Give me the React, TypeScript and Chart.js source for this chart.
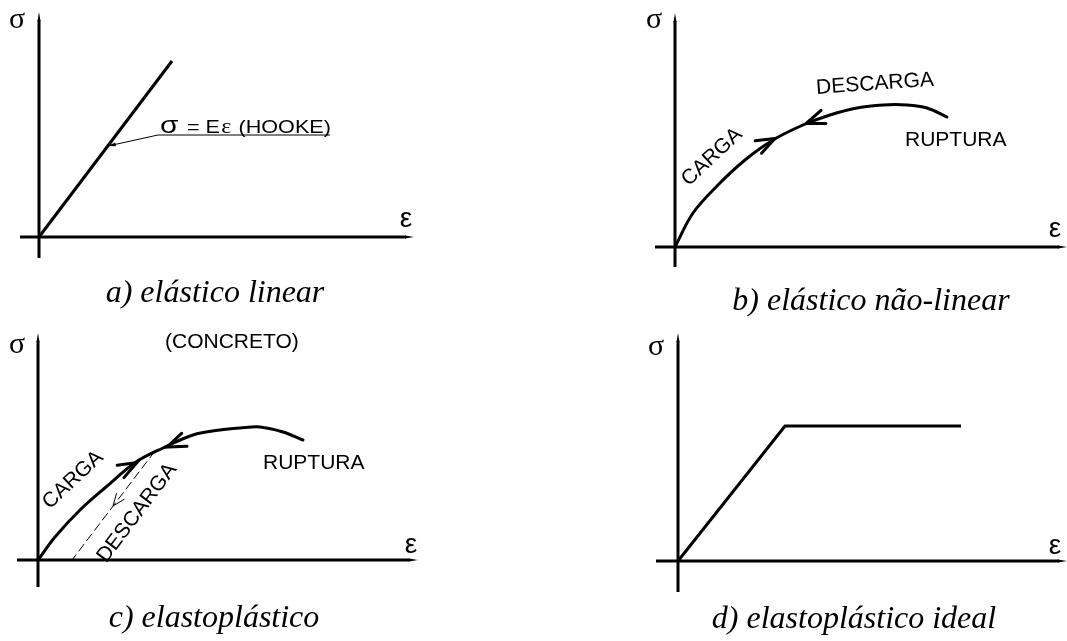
import React, { useEffect, useRef } from "react";
import { Chart, registerables } from "chart.js";

Chart.register(...registerables);

// Strain (ε) and stress (σ) values of each material law, in arbitrary units
const linearStrain = [0, 1.33];
const linearStress = [0, 1.76];

const nonlinearStrain = [0, 0.18, 0.43, 0.7, 0.98, 1.28, 1.55, 1.82, 2.08, 2.32, 2.52, 2.72];
const nonlinearStress = [0, 0.34, 0.62, 0.87, 1.07, 1.22, 1.32, 1.39, 1.42, 1.42, 1.39, 1.3];

const concreteStrain = [0, 0.17, 0.42, 0.68, 0.98, 1.25, 1.55, 1.82, 2.02, 2.22, 2.45, 2.65];
const concreteStress = [0, 0.23, 0.5, 0.73, 0.98, 1.12, 1.25, 1.3, 1.32, 1.33, 1.28, 1.2];

const unloadStrain = [1.17, 0.34];
const unloadStress = [1.09, 0];

const idealStrain = [0, 1.07, 2.83];
const idealStress = [0, 1.35, 1.35];

const captions = [
  "a) elástico linear",
  "b) elástico não-linear",
  "c) elastoplástico",
  "d) elastoplástico ideal",
];

const SANS = "'Liberation Sans', Arial, sans-serif";
const SERIF = "'Liberation Serif', 'Times New Roman', serif";

// Canvas geometry: 100 px per unit, origin 45 px from the left and 245 px from the top
const PX = 100;
const X_MIN = -0.45;
const X_MAX = 3.95;
const Y_MIN = -0.85;
const Y_MAX = 2.45;
const W = (X_MAX - X_MIN) * PX;
const H = (Y_MAX - Y_MIN) * PX;

type Arrow = { x: number; y: number; along: [number[], number[]]; back?: boolean; thin?: boolean };
type Label = { text: string; x: number; y: number; size: number; angle?: number; align?: CanvasTextAlign };

type PanelCfg = {
  origin: [number, number];
  axis: { xMin: number; xMax: number; yMin: number; yMax: number };
  sigma: [number, number];
  eps: [number, number];
  caption: { text: string; x: number; y: number };
  datasets: any[];
  arrows: Arrow[];
  labels: Label[];
  hooke?: boolean;
};

const pts = (xs: number[], ys: number[]) => xs.map((x, i) => ({ x, y: ys[i] }));

const curve = (xs: number[], ys: number[], extra: any = {}) => ({
  data: pts(xs, ys),
  showLine: true,
  borderColor: "#000",
  borderWidth: 3,
  pointRadius: 0,
  tension: 0.35,
  borderCapStyle: "round",
  borderJoinStyle: "miter",
  fill: false,
  ...extra,
});

const panels: PanelCfg[] = [
  {
    origin: [39, 237],
    axis: { xMin: -0.19, xMax: 3.75, yMin: -0.21, yMax: 2.25 },
    sigma: [-0.22, 2.17],
    eps: [3.67, 0.18],
    caption: { text: captions[0], x: 1.76, y: -0.65 },
    datasets: [curve(linearStrain, linearStress, { tension: 0, borderCapStyle: "butt" })],
    arrows: [],
    labels: [],
    hooke: true,
  },
  {
    origin: [675, 247],
    axis: { xMin: -0.2, xMax: 3.92, yMin: -0.2, yMax: 2.34 },
    sigma: [-0.21, 2.27],
    eps: [3.8, 0.18],
    caption: { text: captions[1], x: 1.96, y: -0.63 },
    datasets: [curve(nonlinearStrain, nonlinearStress)],
    arrows: [
      { x: 1.0, y: 1.085, along: [nonlinearStrain, nonlinearStress] },
      { x: 1.31, y: 1.235, along: [nonlinearStrain, nonlinearStress], back: true },
    ],
    labels: [
      { text: "DESCARGA", x: 2.0, y: 1.63, size: 21, angle: -4 },
      { text: "RUPTURA", x: 2.3, y: 1.01, size: 21, align: "left" },
      { text: "CARGA", x: 0.37, y: 0.9, size: 21, angle: -43 },
    ],
  },
  {
    origin: [38.3, 560],
    axis: { xMin: -0.21, xMax: 3.8, yMin: -0.27, yMax: 2.27 },
    sigma: [-0.21, 2.15],
    eps: [3.73, 0.15],
    caption: { text: captions[2], x: 1.76, y: -0.67 },
    datasets: [
      curve(concreteStrain, concreteStress),
      curve(unloadStrain, unloadStress, {
        borderWidth: 1,
        borderDash: [9, 4],
        tension: 0,
        borderCapStyle: "butt",
      }),
    ],
    arrows: [
      { x: 0.99, y: 0.975, along: [concreteStrain, concreteStress] },
      { x: 1.29, y: 1.13, along: [concreteStrain, concreteStress], back: true },
      { x: 0.75, y: 0.54, along: [unloadStrain, unloadStress], thin: true },
    ],
    labels: [
      { text: "(CONCRETO)", x: 1.27, y: 2.12, size: 21, align: "left" },
      { text: "RUPTURA", x: 2.25, y: 0.91, size: 21, align: "left" },
      { text: "CARGA", x: 0.35, y: 0.8, size: 21, angle: -43 },
      { text: "DESCARGA", x: 0.99, y: 0.47, size: 21, angle: -53 },
    ],
  },
  {
    origin: [678.3, 560.7],
    axis: { xMin: -0.22, xMax: 3.89, yMin: -0.31, yMax: 2.28 },
    sigma: [-0.22, 2.14],
    eps: [3.77, 0.15],
    caption: { text: captions[3], x: 1.76, y: -0.67 },
    datasets: [curve(idealStrain, idealStress, { tension: 0, borderCapStyle: "butt" })],
    arrows: [],
    labels: [],
  },
];

// Pixel direction of the polyline through xs/ys around strain value x
function tangent(chart: Chart, xs: number[], ys: number[], x: number) {
  const sx = chart.scales.x;
  const sy = chart.scales.y;
  const asc = xs[xs.length - 1] >= xs[0];
  let i = 0;
  while (i < xs.length - 2 && (asc ? xs[i + 1] < x : xs[i + 1] > x)) i++;
  const a = Math.max(0, i - 1);
  const b = Math.min(xs.length - 1, i + 2);
  const c = i;
  const d = i + 1;
  const seg = (p: number, q: number) => [
    sx.getPixelForValue(xs[q]) - sx.getPixelForValue(xs[p]),
    sy.getPixelForValue(ys[q]) - sy.getPixelForValue(ys[p]),
  ];
  const [mx, my] = seg(c, d);
  const [wx, wy] = seg(a, b);
  const dx = mx / Math.hypot(mx, my) + 0.5 * (wx / (Math.hypot(wx, wy) || 1));
  const dy = my / Math.hypot(mx, my) + 0.5 * (wy / (Math.hypot(wx, wy) || 1));
  const len = Math.hypot(dx, dy) || 1;
  return [dx / len, dy / len];
}

function drawChevron(
  ctx: CanvasRenderingContext2D,
  tx: number,
  ty: number,
  ux: number,
  uy: number,
  len: number,
  spread: number,
  width: number
) {
  ctx.save();
  ctx.strokeStyle = "#000";
  ctx.lineWidth = width;
  ctx.lineCap = "round";
  ctx.lineJoin = "miter";
  const ang = Math.atan2(uy, ux);
  ctx.beginPath();
  ctx.moveTo(tx - len * Math.cos(ang - spread), ty - len * Math.sin(ang - spread));
  ctx.lineTo(tx, ty);
  ctx.lineTo(tx - len * Math.cos(ang + spread), ty - len * Math.sin(ang + spread));
  ctx.stroke();
  ctx.restore();
}

function axesPlugin(cfg: PanelCfg) {
  return {
    id: "stressStrainAxes",
    beforeDatasetsDraw(chart: Chart) {
      const ctx = chart.ctx;
      const sx = chart.scales.x;
      const sy = chart.scales.y;
      const ox = sx.getPixelForValue(0);
      const oy = sy.getPixelForValue(0);
      const x0 = sx.getPixelForValue(cfg.axis.xMin);
      const x1 = sx.getPixelForValue(cfg.axis.xMax);
      const y0 = sy.getPixelForValue(cfg.axis.yMin);
      const y1 = sy.getPixelForValue(cfg.axis.yMax);
      ctx.save();
      ctx.fillStyle = "#fff";
      ctx.fillRect(0, 0, chart.width, chart.height);
      ctx.strokeStyle = "#000";
      ctx.fillStyle = "#000";
      ctx.lineWidth = 3;
      ctx.lineCap = "butt";
      ctx.beginPath();
      ctx.moveTo(x0, oy);
      ctx.lineTo(x1 - 8, oy);
      ctx.moveTo(ox, y0);
      ctx.lineTo(ox, y1 + 8);
      ctx.stroke();
      // tapered tips
      ctx.beginPath();
      ctx.moveTo(x1 - 9, oy - 1.5);
      ctx.lineTo(x1, oy);
      ctx.lineTo(x1 - 9, oy + 1.5);
      ctx.closePath();
      ctx.moveTo(ox - 1.5, y1 + 9);
      ctx.lineTo(ox, y1);
      ctx.lineTo(ox + 1.5, y1 + 9);
      ctx.closePath();
      ctx.fill();

      // axis symbols
      ctx.textAlign = "center";
      ctx.textBaseline = "middle";
      ctx.font = `30px ${SERIF}`;
      ctx.fillText("σ", sx.getPixelForValue(cfg.sigma[0]), sy.getPixelForValue(cfg.sigma[1]));
      ctx.font = `28px ${SANS}`;
      ctx.fillText("ε", sx.getPixelForValue(cfg.eps[0]), sy.getPixelForValue(cfg.eps[1]));

      // caption
      ctx.font = `italic 32px ${SERIF}`;
      ctx.textBaseline = "alphabetic";
      ctx.fillText(cfg.caption.text, sx.getPixelForValue(cfg.caption.x), sy.getPixelForValue(cfg.caption.y));
      ctx.restore();
    },
    afterDatasetsDraw(chart: Chart) {
      const ctx = chart.ctx;
      const sx = chart.scales.x;
      const sy = chart.scales.y;
      ctx.save();
      ctx.fillStyle = "#000";

      cfg.arrows.forEach((a) => {
        let [ux, uy] = tangent(chart, a.along[0], a.along[1], a.x);
        if (a.back) {
          ux = -ux;
          uy = -uy;
        }
        drawChevron(
          ctx,
          sx.getPixelForValue(a.x),
          sy.getPixelForValue(a.y),
          ux,
          uy,
          a.thin ? 13 : 20,
          a.thin ? 0.38 : 0.36,
          a.thin ? 1 : 3
        );
      });

      cfg.labels.forEach((l) => {
        ctx.save();
        ctx.translate(sx.getPixelForValue(l.x), sy.getPixelForValue(l.y));
        ctx.rotate(((l.angle || 0) * Math.PI) / 180);
        ctx.font = `${l.size}px ${SANS}`;
        ctx.textAlign = l.align || "center";
        ctx.textBaseline = l.align === "left" ? "alphabetic" : "middle";
        ctx.fillText(l.text, 0, 0);
        ctx.restore();
      });

      if (cfg.hooke) {
        // Hooke's law callout with leader to the line
        const ux0 = sx.getPixelForValue(1.19);
        const ux1 = sx.getPixelForValue(2.91);
        const uy = sy.getPixelForValue(1.02);
        const lx = sx.getPixelForValue(0.69);
        const ly = sy.getPixelForValue(0.91);
        ctx.strokeStyle = "#000";
        ctx.lineWidth = 1;
        ctx.beginPath();
        ctx.moveTo(ux1, uy);
        ctx.lineTo(ux0, uy);
        ctx.lineTo(lx, ly);
        ctx.stroke();
        const d = Math.atan2(ly - uy, lx - ux0);
        ctx.beginPath();
        ctx.moveTo(lx, ly);
        ctx.lineTo(lx - 8 * Math.cos(d - 0.25), ly - 8 * Math.sin(d - 0.25));
        ctx.lineTo(lx - 8 * Math.cos(d + 0.25), ly - 8 * Math.sin(d + 0.25));
        ctx.closePath();
        ctx.fill();

        const by = sy.getPixelForValue(1.04);
        ctx.textAlign = "left";
        ctx.textBaseline = "alphabetic";
        ctx.save();
        ctx.translate(sx.getPixelForValue(1.21), by);
        ctx.scale(1.3, 1);
        ctx.font = `23px ${SANS}`;
        ctx.fillText("σ", 0, 0);
        ctx.restore();
        ctx.save();
        ctx.translate(sx.getPixelForValue(1.48), by);
        ctx.scale(1.2, 1);
        ctx.font = `18px ${SANS}`;
        ctx.fillText("= E", 0, 0);
        const w = ctx.measureText("= E").width;
        ctx.font = `20px ${SERIF}`;
        ctx.fillText("ε", w + 1, 0);
        const we = ctx.measureText("ε").width;
        ctx.font = `18px ${SANS}`;
        ctx.fillText(" (HOOKE)", w + we + 2, 0);
        ctx.restore();
      }
      ctx.restore();
    },
  };
}

function Panel({ cfg }: { cfg: PanelCfg }) {
  const ref = useRef<HTMLCanvasElement>(null);
  useEffect(() => {
    const chart = new Chart(ref.current as HTMLCanvasElement, {
      type: "scatter",
      data: { datasets: cfg.datasets },
      options: {
        animation: false,
        responsive: false,
        devicePixelRatio: 1,
        layout: { padding: 0 },
        plugins: { legend: { display: false }, tooltip: { enabled: false } },
        events: [],
        scales: {
          x: { type: "linear", min: X_MIN, max: X_MAX, display: false },
          y: { type: "linear", min: Y_MIN, max: Y_MAX, display: false },
        },
      },
      plugins: [axesPlugin(cfg)],
    } as any);
    return () => chart.destroy();
  }, [cfg]);
  return (
    <canvas
      ref={ref}
      width={W}
      height={H}
      style={{
        position: "absolute",
        left: cfg.origin[0] + X_MIN * PX,
        top: cfg.origin[1] - Y_MAX * PX,
        width: W,
        height: H,
      }}
    />
  );
}

export default function App() {
  return (
    <div
      style={{
        position: "absolute",
        left: 0,
        top: 0,
        width: 1067,
        height: 641,
        overflow: "hidden",
        background: "#fff",
      }}
    >
      {panels.map((p, i) => (
        <Panel key={i} cfg={p} />
      ))}
    </div>
  );
}
